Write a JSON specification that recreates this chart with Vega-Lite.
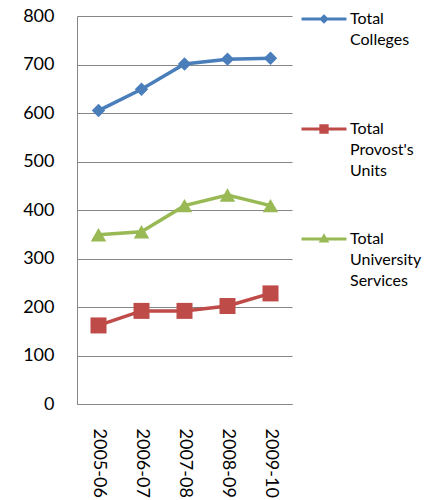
{
  "$schema": "https://vega.github.io/schema/vega-lite/v6.json",
  "width": 215,
  "height": 388,
  "autosize": "none",
  "padding": {"left": 77, "top": 16, "right": 143, "bottom": 96},
  "background": "white",
  "config": {
    "font": "Lato",
    "view": {"stroke": null},
    "axis": {"labelColor": "black", "labelFontSize": 18, "ticks": false, "domainColor": "#868686", "gridColor": "#868686", "gridOpacity": 1, "title": null}
  },
  "data": {
    "values": [
      {"year": "2005-06", "series": "Total Colleges", "value": 605},
      {"year": "2006-07", "series": "Total Colleges", "value": 649},
      {"year": "2007-08", "series": "Total Colleges", "value": 701},
      {"year": "2008-09", "series": "Total Colleges", "value": 711},
      {"year": "2009-10", "series": "Total Colleges", "value": 713},
      {"year": "2005-06", "series": "Total Provost's Units", "value": 162},
      {"year": "2006-07", "series": "Total Provost's Units", "value": 192},
      {"year": "2007-08", "series": "Total Provost's Units", "value": 192},
      {"year": "2008-09", "series": "Total Provost's Units", "value": 202},
      {"year": "2009-10", "series": "Total Provost's Units", "value": 228},
      {"year": "2005-06", "series": "Total University Services", "value": 349},
      {"year": "2006-07", "series": "Total University Services", "value": 355},
      {"year": "2007-08", "series": "Total University Services", "value": 409},
      {"year": "2008-09", "series": "Total University Services", "value": 431},
      {"year": "2009-10", "series": "Total University Services", "value": 409}
    ]
  },
  "encoding": {
    "x": {
      "field": "year", "type": "ordinal",
      "scale": {"type": "point", "padding": 0.5},
      "axis": {"labelAngle": 90, "labelPadding": 24, "grid": false}
    },
    "y": {
      "field": "value", "type": "quantitative",
      "scale": {"domain": [0, 800], "nice": false},
      "axis": {"values": [0, 100, 200, 300, 400, 500, 600, 700, 800], "grid": true, "labelPadding": 23}
    },
    "color": {
      "field": "series", "type": "nominal",
      "scale": {"domain": ["Total Colleges", "Total Provost's Units", "Total University Services"], "range": ["#4A7EBB", "#BE4B48", "#98B954"]},
      "legend": {
        "title": null,
        "orient": "none",
        "legendX": 223,
        "legendY": -21,
        "labelFontSize": 16,
        "labelColor": "black",
        "labelOffset": 2,
        "rowPadding": 36,
        "padding": 0,
        "symbolSize": 2025,
        "symbolStrokeWidth": 3,
        "labelExpr": "datum.label == 'Total Colleges' ? ['Total', 'Colleges', ''] : datum.label == 'Total University Services' ? ['Total', 'University', 'Services'] : ['Total', 'Provost\\'s', 'Units']",
        "encode": {
          "labels": {"update": {"lineHeight": {"value": 21}}},
          "symbols": {
            "update": {
              "shape": {"signal": "datum.value == 'Total Colleges' ? 'M-1,0H1M0,-0.12L0.12,0L0,0.12L-0.12,0Z' : datum.value == 'Total University Services' ? 'M-1,0H1M-0.12,0.09L0.12,0.09L0,-0.12Z' : 'M-1,0H1M-0.14,-0.14H0.14V0.14H-0.14Z'"},
              "size": {"value": 2025},
              "fill": {"scale": "color", "field": "value"},
              "stroke": {"scale": "color", "field": "value"},
              "strokeWidth": {"value": 3},
              "opacity": {"value": 1}
            }
          }
        }
      }
    }
  },
  "layer": [
    {"mark": {"type": "line", "strokeWidth": 3.5}},
    {
      "transform": [{"filter": "datum.series == 'Total Colleges'"}],
      "mark": {"type": "point", "filled": true, "opacity": 1, "shape": "diamond", "size": 180}
    },
    {
      "transform": [{"filter": "datum.series == 'Total Provost\\'s Units'"}],
      "mark": {"type": "point", "filled": true, "opacity": 1, "shape": "square", "size": 256}
    },
    {
      "transform": [{"filter": "datum.series == 'Total University Services'"}],
      "mark": {"type": "point", "filled": true, "opacity": 1, "shape": "triangle-up", "size": 240}
    }
  ]
}
